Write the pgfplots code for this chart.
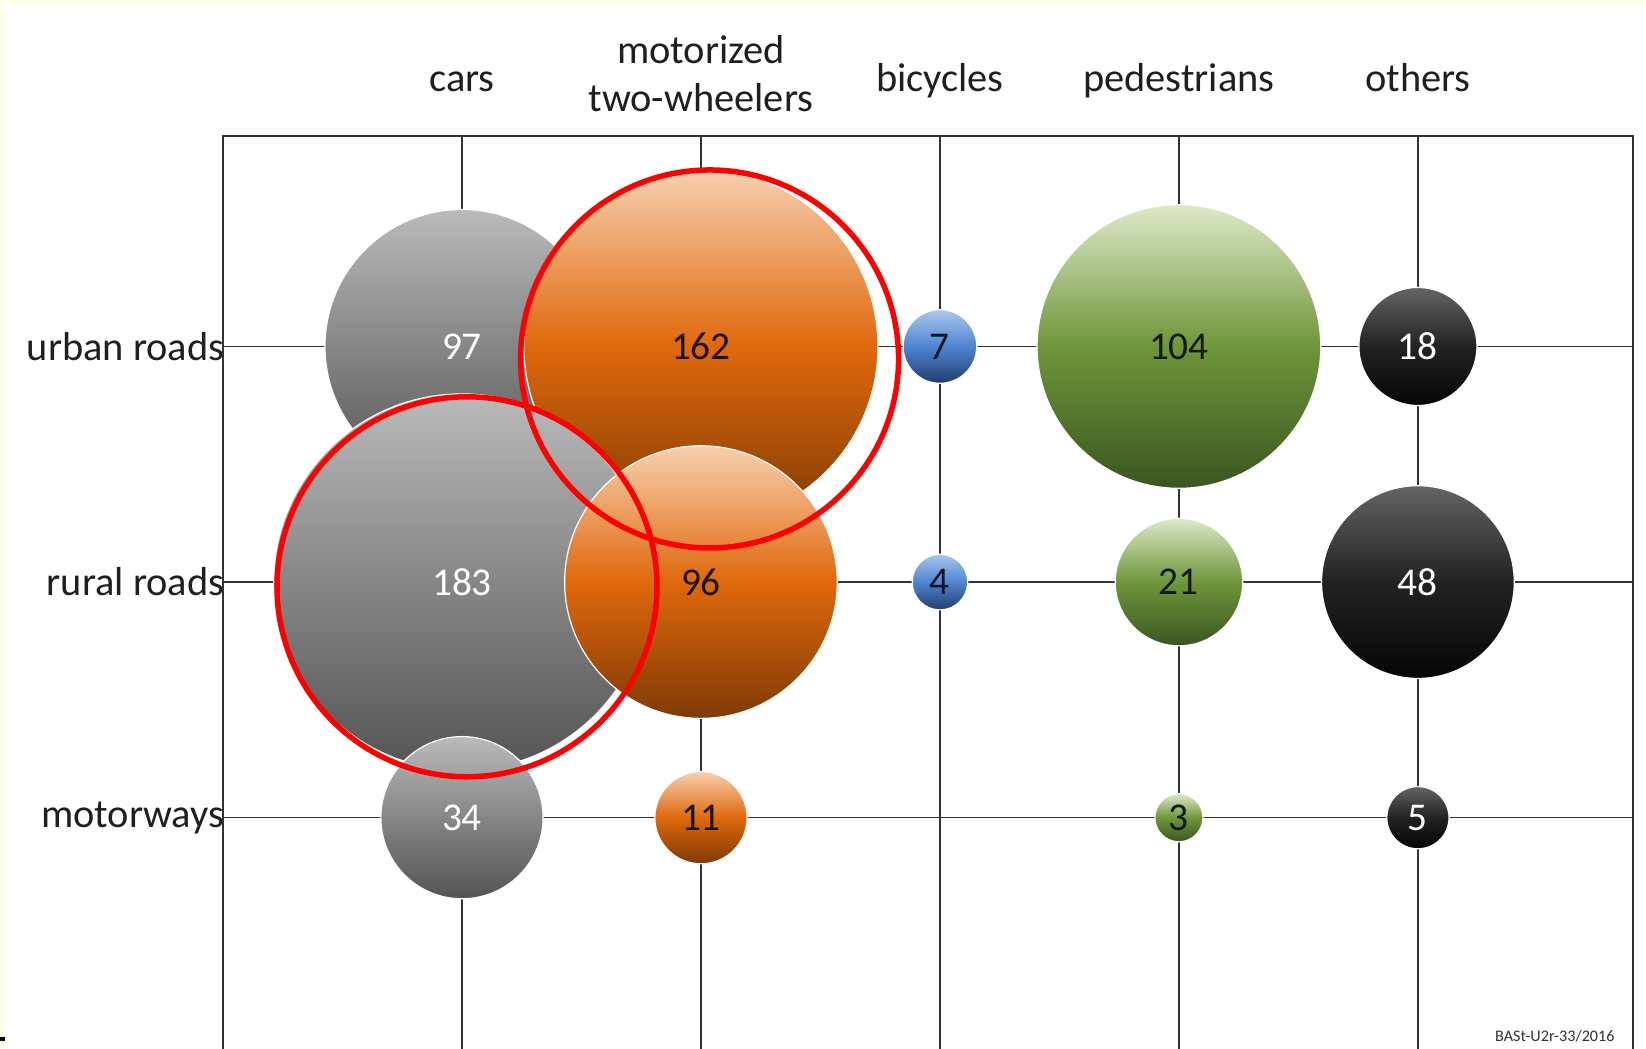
\documentclass[border=0pt]{standalone}
\usepackage{fontspec}
\setmainfont{Carlito}
\usepackage{pgfplots}
\pgfplotsset{compat=1.18}
\usepackage{pgfplotstable}

\definecolor{bgyellow}{RGB}{255,255,234}
\definecolor{gridgray}{HTML}{333333}
\newcommand{\lblfont}{\fontsize{11.5}{13.8}\selectfont}

% c: 1 cars (grey), 2 motorized two-wheelers (orange), 3 bicycles (blue), 4 pedestrians (green), 5 others (black)
\pgfplotstableread{
x y v c
1 3 97 1
2 3 162 2
3 3 7 3
4 3 104 4
5 3 18 5
}\urban
\pgfplotstableread{
x y v c
1 2 183 1
2 2 96 2
3 2 4 3
4 2 21 4
5 2 48 5
}\rural
\pgfplotstableread{
x y v c
1 1 34 1
2 1 11 2
4 1 3 4
5 1 5 5
}\motorways

\tikzset{
  bubble/.style={circle, inner sep=0pt, outer sep=0pt, draw=white, line width=0.12mm,
    font=\fontsize{11.2}{13}\selectfont},
  bub1/.style={top color={rgb,255:red,186;green,186;blue,186}, bottom color={rgb,255:red,84;green,84;blue,84}, middle color={rgb,255:red,134;green,134;blue,134}, text=white},
  bub2/.style={top color={rgb,255:red,247;green,208;blue,175}, bottom color={rgb,255:red,126;green,58;blue,5}, middle color={rgb,255:red,224;green,104;blue,12}, text={rgb,255:red,25;green,20;blue,15}},
  bub3/.style={top color={rgb,255:red,170;green,199;blue,238}, bottom color={rgb,255:red,32;green,62;blue,110}, middle color={rgb,255:red,79;green,132;blue,208}, text={rgb,255:red,15;green,20;blue,40}},
  bub4/.style={top color={rgb,255:red,222;green,233;blue,200}, bottom color={rgb,255:red,58;green,86;blue,32}, middle color={rgb,255:red,110;green,150;blue,58}, text={rgb,255:red,20;green,25;blue,15}},
  bub5/.style={top color={rgb,255:red,100;green,100;blue,100}, bottom color={rgb,255:red,6;green,6;blue,6}, middle color={rgb,255:red,34;green,34;blue,34}, text=white},
  bubsel/.code={\pgfmathtruncatemacro\bcidx{#1}\pgfkeysalso{/tikz/bub\bcidx}},
}

\begin{document}
\begin{tikzpicture}
\path[use as bounding box] (-22.3mm,0.43mm) rectangle (142.3mm,105.33mm);
\fill[bgyellow] (-22.3mm,0.43mm) rectangle (142.3mm,105.33mm);
\fill[white] (-21.8mm,0.43mm) rectangle (142.3mm,104.83mm);
\fill[black] (-22.3mm,1.26mm) rectangle (-21.8mm,1.6mm);
\begin{axis}[
  at={(0,0)}, anchor=south west,
  scale only axis, width=141mm, height=91.72mm,
  xmin=0, xmax=5.9, ymin=0, ymax=3.893,
  xtick={1,2,3,4,5}, ytick={1,2,3},
  xticklabels={cars,{\raisebox{-2mm}{\begin{tabular}[b]{@{}c@{}}motorized\\two-wheelers\end{tabular}}},bicycles,pedestrians,others},
  yticklabels={motorways,rural roads,urban roads},
  xticklabel pos=upper,
  major tick length=0pt,
  grid=major,
  major grid style={gridgray, line width=0.16mm},
  axis line style={gridgray, line width=0.2mm},
  xticklabel style={anchor=base, yshift=4.45mm, font=\lblfont, text=black!88},
  yticklabel style={anchor=east, inner sep=0pt, xshift=0.2mm, font=\lblfont, text=black!88},
  /pgf/number format/assume math mode=true,
  clip=false,
]
\addplot[draw=none, mark=none, point meta=\thisrow{v},
  visualization depends on={\thisrow{c} \as \bcol},
  visualization depends on={2.782*sqrt(\thisrow{v}) \as \dia},
  nodes near coords,
  nodes near coords style={/tikz/bubble, /tikz/bubsel=\bcol, minimum size=\dia mm, anchor=center}]
  table[x=x, y=y] {\urban};
\addplot[draw=none, mark=none, point meta=\thisrow{v},
  visualization depends on={\thisrow{c} \as \bcol},
  visualization depends on={2.782*sqrt(\thisrow{v}) \as \dia},
  nodes near coords,
  nodes near coords style={/tikz/bubble, /tikz/bubsel=\bcol, minimum size=\dia mm, anchor=center}]
  table[x=x, y=y] {\rural};
\addplot[draw=none, mark=none, point meta=\thisrow{v},
  visualization depends on={\thisrow{c} \as \bcol},
  visualization depends on={2.782*sqrt(\thisrow{v}) \as \dia},
  nodes near coords,
  nodes near coords style={/tikz/bubble, /tikz/bubsel=\bcol, minimum size=\dia mm, anchor=center}]
  table[x=x, y=y] {\motorways};
\addplot[only marks, mark=o, mark size=18.9mm, mark options={draw=red, line width=0.55mm}]
  coordinates {(2.036,2.947)};
\addplot[only marks, mark=o, mark size=19.0mm, mark options={draw=red, line width=0.55mm}]
  coordinates {(1.021,1.980)};
\node[font=\fontsize{4.6}{5}\selectfont, text=black!80, inner sep=0.5pt] at (axis cs:5.573,0.073) {BASt-U2r-33/2016};
\end{axis}
\end{tikzpicture}
\end{document}
